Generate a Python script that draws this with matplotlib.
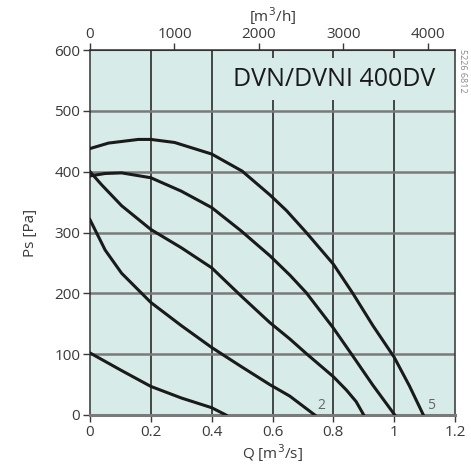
import matplotlib.pyplot as plt
import numpy as np

plt.rcParams['font.family'] = ['Open Sans', 'DejaVu Sans']

# fan curves, Q [m3/s] vs Ps [Pa]
q1 = [0, 0.061, 0.159, 0.2, 0.278, 0.4, 0.5, 0.591, 0.646, 0.711, 0.8, 0.864, 0.93, 1.0, 1.05, 1.096]
p1 = [438, 447, 453, 453, 448, 429, 401, 362, 336, 300, 248, 200, 147, 95, 48, 0]

q2 = [0, 0.05, 0.104, 0.2, 0.3, 0.4, 0.496, 0.591, 0.657, 0.711, 0.8, 0.864, 0.93, 1.002]
p2 = [393, 397, 398, 390, 368, 341, 303, 262, 230, 201, 143, 97, 49, 0]

q3 = [0, 0.039, 0.104, 0.2, 0.3, 0.4, 0.496, 0.591, 0.657, 0.711, 0.8, 0.843, 0.875, 0.9]
p3 = [400, 378, 344, 305, 275, 242, 196, 152, 125, 101, 63, 41, 22, 0]

q4 = [0, 0.05, 0.104, 0.2, 0.3, 0.4, 0.496, 0.591, 0.657, 0.739]
p4 = [321, 271, 233, 185, 147, 111, 80, 50, 31, 0]

q5 = [0, 0.104, 0.2, 0.3, 0.4, 0.447]
p5 = [102, 73, 47, 28, 12, 0]

curves = [(q1, p1), (q2, p2), (q3, p3), (q4, p4), (q5, p5)]

bg = '#d7ece8'
txt = '#3a3a3a'

fig = plt.figure(figsize=(4.71, 4.75), dpi=100)
ax = fig.add_axes([90 / 471, 60 / 475, 365 / 471, 365 / 475])
ax.set_facecolor(bg)

ax.set_xlim(0, 1.2)
ax.set_ylim(0, 600)
ax.set_xticks(np.arange(0, 1.21, 0.2))
ax.set_xticklabels(['0', '0.2', '0.4', '0.6', '0.8', '1', '1.2'])
ax.set_yticks(np.arange(0, 601, 100))

for x in np.arange(0.2, 1.19, 0.2):
    ax.axvline(x, color='#1a1a1a', lw=1.1, zorder=1)
for y in np.arange(100, 599, 100):
    ax.axhline(y, color='#7a7a7a', lw=1.8, zorder=1)

for q, p in curves:
    ax.plot(q, p, color='#1a1a1a', lw=2.2, zorder=3, solid_joinstyle='round')

ax.text(0.76, 16, '2', color='#666666', fontsize=10, ha='center', va='center', zorder=4)
ax.text(1.12, 16, '5', color='#666666', fontsize=10, ha='center', va='center', zorder=4)

ax.text(1.135, 552, 'DVN/DVNI 400DV', ha='right', va='center', fontsize=18,
        color='#1a1a1a', zorder=5,
        bbox=dict(facecolor=bg, edgecolor='none', pad=6))

for s in ['left', 'top', 'right']:
    ax.spines[s].set_color('#333333')
    ax.spines[s].set_linewidth(1.1)
ax.spines['bottom'].set_color('#7a7a7a')
ax.spines['bottom'].set_linewidth(2.2)

ax.tick_params(colors=txt, labelsize=11, length=5, width=1, pad=2)
ax.set_xlabel('Q [m$^3$/s]', fontsize=11, color=txt, labelpad=2)
ax.set_ylabel('Ps [Pa]', fontsize=11, color=txt, labelpad=12)

top = ax.secondary_xaxis('top', functions=(lambda v: v * 3600, lambda v: v / 3600))
top.set_xticks([0, 1000, 2000, 3000, 4000])
top.tick_params(colors=txt, labelsize=11, length=5, width=1, pad=1)
top.set_xlabel('[m$^3$/h]', fontsize=11, color=txt, labelpad=3)
top.spines['top'].set_color('#333333')

fig.text(0.982, 0.85, '5226 6812', rotation=270, fontsize=6.5, color='#888888',
         ha='center', va='center')

fig.savefig('out.png', dpi=100)
